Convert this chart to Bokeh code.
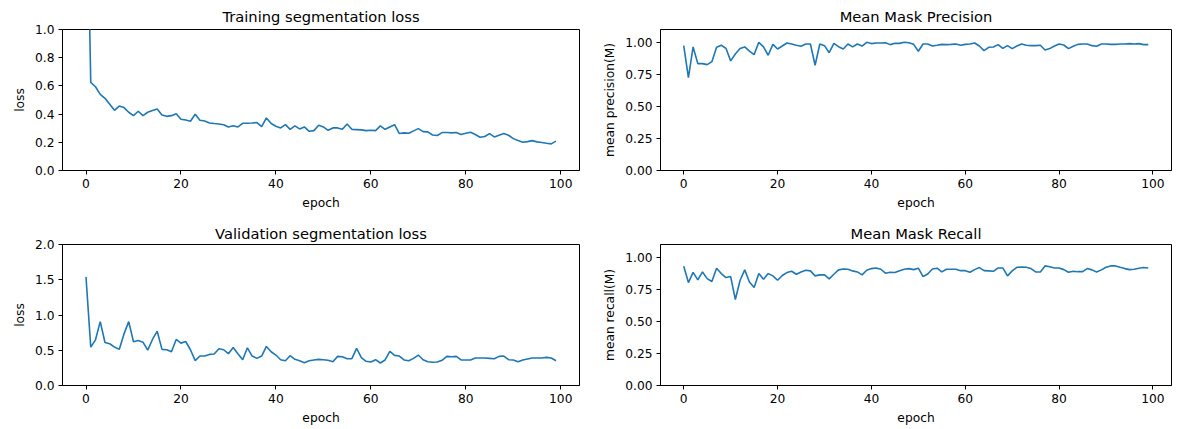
from bokeh.plotting import figure
from bokeh.layouts import gridplot
from bokeh.models import Range1d, FixedTicker, PrintfTickFormatter
from bokeh.embed import file_html
from bokeh.resources import INLINE

epochs = list(range(100))

train_loss = [2.40, 0.625, 0.594, 0.54, 0.512, 0.47, 0.427, 0.457, 0.446, 0.413,
              0.389, 0.42, 0.389, 0.413, 0.425, 0.436, 0.394, 0.384, 0.389, 0.403,
              0.363, 0.358, 0.349, 0.399, 0.356, 0.351, 0.337, 0.333, 0.330, 0.325,
              0.309, 0.318, 0.309, 0.335, 0.335, 0.337, 0.34, 0.311, 0.373, 0.333,
              0.314, 0.302, 0.325, 0.292, 0.316, 0.295, 0.309, 0.278, 0.283, 0.321,
              0.309, 0.285, 0.302, 0.302, 0.292, 0.330, 0.292, 0.290, 0.288, 0.283,
              0.285, 0.283, 0.316, 0.292, 0.309, 0.325, 0.262, 0.267, 0.264, 0.281,
              0.297, 0.276, 0.274, 0.252, 0.248, 0.269, 0.269, 0.267, 0.269, 0.255,
              0.264, 0.271, 0.255, 0.236, 0.241, 0.262, 0.238, 0.250, 0.262, 0.250,
              0.226, 0.212, 0.200, 0.205, 0.212, 0.203, 0.198, 0.193, 0.189, 0.208]

val_loss = [1.54, 0.545, 0.648, 0.906, 0.61, 0.592, 0.545, 0.512, 0.732, 0.906,
            0.62, 0.638, 0.615, 0.502, 0.653, 0.77, 0.512, 0.507, 0.479, 0.653,
            0.601, 0.624, 0.507, 0.352, 0.418, 0.418, 0.441, 0.446, 0.521, 0.507,
            0.451, 0.54, 0.451, 0.366, 0.535, 0.418, 0.385, 0.418, 0.554, 0.479,
            0.432, 0.366, 0.352, 0.423, 0.371, 0.352, 0.324, 0.352, 0.362, 0.371,
            0.366, 0.357, 0.338, 0.413, 0.408, 0.380, 0.380, 0.526, 0.394, 0.343,
            0.333, 0.366, 0.319, 0.362, 0.484, 0.427, 0.418, 0.362, 0.352, 0.385,
            0.432, 0.366, 0.338, 0.329, 0.333, 0.357, 0.413, 0.408, 0.413, 0.362,
            0.362, 0.362, 0.390, 0.390, 0.390, 0.385, 0.380, 0.413, 0.418, 0.366,
            0.362, 0.338, 0.362, 0.376, 0.390, 0.390, 0.390, 0.399, 0.390, 0.352]

precision = [0.974, 0.725, 0.964, 0.834, 0.834, 0.826, 0.849, 0.961, 0.977, 0.953,
             0.855, 0.909, 0.951, 0.964, 0.932, 0.904, 1.0, 0.964, 0.899, 0.984,
             0.948, 0.971, 0.995, 0.987, 0.977, 0.969, 0.987, 0.987, 0.821, 0.987,
             0.974, 0.919, 0.992, 0.966, 0.948, 0.987, 0.964, 0.987, 0.971, 1.0,
             0.990, 0.995, 0.995, 0.997, 0.982, 0.992, 0.992, 1.0, 0.997, 0.984,
             0.930, 0.987, 0.987, 0.971, 0.977, 0.984, 0.982, 0.984, 0.987, 0.977,
             0.984, 0.987, 0.995, 0.971, 0.935, 0.961, 0.964, 0.982, 0.953, 0.974,
             0.951, 0.971, 0.987, 0.977, 0.974, 0.974, 0.977, 0.940, 0.951, 0.971,
             0.987, 0.979, 0.951, 0.969, 0.984, 0.987, 0.987, 0.974, 0.969, 0.987,
             0.987, 0.984, 0.984, 0.987, 0.987, 0.990, 0.987, 0.990, 0.982, 0.982]

recall = [0.930, 0.803, 0.883, 0.824, 0.886, 0.834, 0.811, 0.915, 0.873, 0.842,
          0.850, 0.671, 0.819, 0.902, 0.808, 0.764, 0.873, 0.829, 0.873, 0.855,
          0.821, 0.858, 0.881, 0.891, 0.868, 0.886, 0.899, 0.894, 0.855, 0.863,
          0.863, 0.832, 0.868, 0.902, 0.909, 0.907, 0.894, 0.886, 0.863, 0.899,
          0.912, 0.917, 0.907, 0.876, 0.883, 0.881, 0.896, 0.907, 0.912, 0.904,
          0.915, 0.850, 0.870, 0.909, 0.915, 0.886, 0.907, 0.907, 0.907, 0.896,
          0.896, 0.883, 0.904, 0.920, 0.896, 0.894, 0.891, 0.917, 0.917, 0.855,
          0.894, 0.922, 0.925, 0.922, 0.912, 0.886, 0.886, 0.933, 0.927, 0.917,
          0.917, 0.904, 0.883, 0.891, 0.888, 0.888, 0.912, 0.902, 0.886, 0.902,
          0.922, 0.933, 0.933, 0.922, 0.912, 0.904, 0.907, 0.915, 0.920, 0.917]

x_ticks = [0, 20, 40, 60, 80, 100]
FONT = "DejaVu Sans"
BLUE = "#1f77b4"


def make(title, ydata, ylabel, ymax, yticks, yfmt, bl, fw, standoff, bb):
    p = figure(frame_width=fw, frame_height=141, output_backend="svg", toolbar_location=None,
               x_range=Range1d(-4.95, 103.95), y_range=Range1d(0, ymax),
               min_border_left=bl, min_border_right=3, min_border_top=10, min_border_bottom=bb)
    p.line(epochs, ydata, line_color=BLUE, line_width=1.6)
    p.title.text = title
    p.title.align = "center"
    p.title.text_font = FONT
    p.title.text_font_style = "normal"
    p.title.text_font_size = "14.7px"
    p.title.text_color = "black"
    p.title.standoff = standoff
    p.grid.visible = False
    p.outline_line_color = "black"
    p.outline_line_alpha = 1.0
    p.outline_line_width = 1
    p.xaxis.ticker = FixedTicker(ticks=x_ticks)
    p.yaxis.ticker = FixedTicker(ticks=yticks)
    p.yaxis.formatter = PrintfTickFormatter(format=yfmt)
    p.xaxis.axis_label = "epoch"
    p.yaxis.axis_label = ylabel
    for ax in (p.xaxis, p.yaxis):
        ax.major_label_text_font = FONT
        ax.major_label_text_font_size = "12.25px"
        ax.major_label_text_color = "black"
        ax.axis_label_text_font = FONT
        ax.axis_label_text_font_size = "12.25px"
        ax.axis_label_text_font_style = "normal"
        ax.axis_label_text_color = "black"
        ax.axis_line_color = "black"
        ax.major_tick_line_color = "black"
        ax.major_tick_out = 4
        ax.major_tick_in = 0
        ax.minor_tick_line_color = None
        ax.axis_label_standoff = 5
        ax.major_label_standoff = 4
    p.background_fill_color = "white"
    p.border_fill_color = "white"
    return p


p1 = make("Training segmentation loss", train_loss, "loss", 1.0,
          [0.0, 0.2, 0.4, 0.6, 0.8, 1.0], "%.1f", 62, 517, 10, 49)
p2 = make("Mean Mask Precision", precision, "mean precision(M)", 1.1,
          [0.0, 0.25, 0.5, 0.75, 1.0], "%.2f", 78, 511, 10, 49)
p3 = make("Validation segmentation loss", val_loss, "loss", 2.0,
          [0.0, 0.5, 1.0, 1.5, 2.0], "%.1f", 62, 517, 6, 40)
p4 = make("Mean Mask Recall", recall, "mean recall(M)", 1.1,
          [0.0, 0.25, 0.5, 0.75, 1.0], "%.2f", 78, 511, 6, 40)

grid = gridplot([[p1, p2], [p3, p4]], toolbar_location=None)

open("out.html", "w").write(file_html(grid, INLINE))
